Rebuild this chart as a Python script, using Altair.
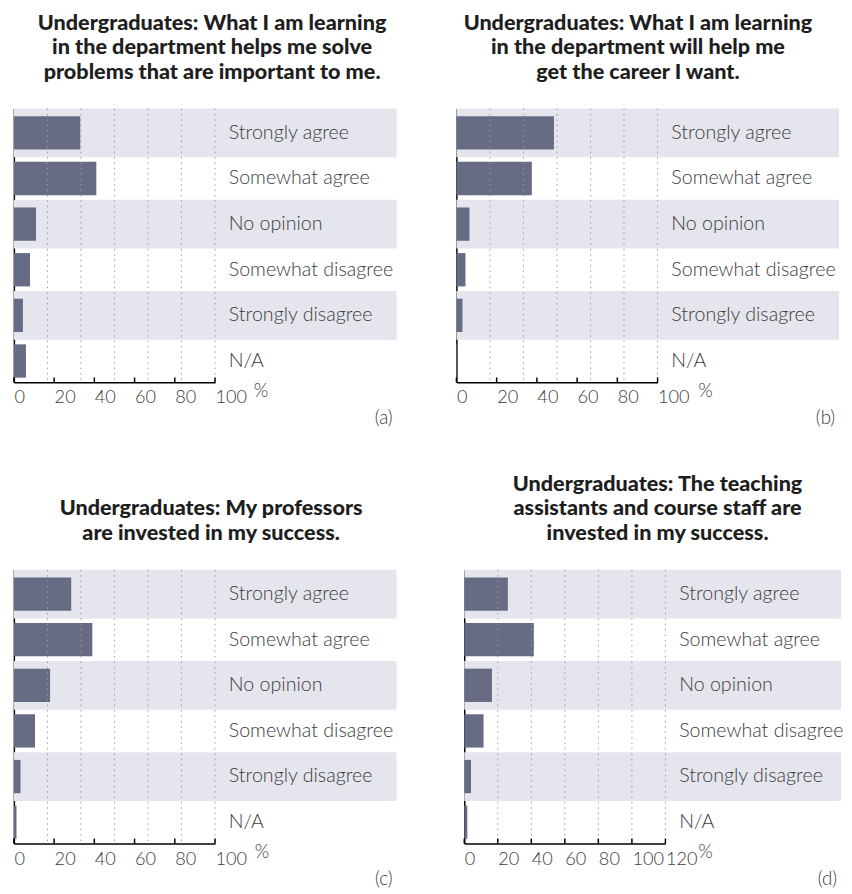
import altair as alt
import pandas as pd

categories = ["Strongly agree", "Somewhat agree", "No opinion",
              "Somewhat disagree", "Strongly disagree", "N/A"]
shaded = [True, False, True, False, True, False]

titles = [
    ["Undergraduates: What I am learning", "in the department helps me solve",
     "problems that are important to me."],
    ["Undergraduates: What I am learning", "in the department will help me",
     "get the career I want."],
    ["", "Undergraduates: My professors", "are invested in my success."],
    ["Undergraduates: The teaching", "assistants and course staff are",
     "invested in my success."],
]

values_a = [33, 41, 11, 8, 4.5, 6]
values_b = [48.5, 37.5, 6.5, 4.5, 3, 0.3]
values_c = [28.5, 39, 18, 10.5, 3.3, 1.3]
values_d = [26, 41.5, 16.5, 11.5, 4, 1.8]

ticks_100 = [0, 20, 40, 60, 80, 100]
ticks_120 = [0, 20, 40, 60, 80, 100, 120]
grid_100 = [16.7, 33.3, 50, 66.7, 83.3, 100]
grid_120 = [20, 40, 60, 80, 100, 120]
letters = ["(a)", "(b)", "(c)", "(d)"]

BAR = "#676c85"
BAND = "#e4e5ed"
TXT = "#3c3c3c"
H = 279
PW = 205


def panel(vals, title_lines, xmax, ticks, grid, letter, W, title_dx, pct_x):
    df = pd.DataFrame({"cat": categories, "val": vals, "shade": shaded})
    xs = alt.Scale(domain=[0, xmax], range=[0, PW], nice=False, zero=True)
    ys = alt.Scale(domain=categories, paddingInner=0, paddingOuter=0)

    bands = alt.Chart(df).transform_filter("datum.shade").mark_bar(
        color=BAND, height={"band": 1.07}, yOffset=1.5).encode(
        y=alt.Y("cat:N", scale=ys, sort=categories,
                axis=alt.Axis(labels=False, ticks=False, title=None, grid=False,
                              domainColor="black", domainWidth=1.5)),
        x=alt.value(0), x2=alt.value(W))

    bars = alt.Chart(df).mark_bar(color=BAR, height={"band": 0.73}, yOffset=1.5).encode(
        y=alt.Y("cat:N", scale=ys, sort=categories),
        x=alt.X("val:Q", scale=xs,
                axis=alt.Axis(values=ticks, labelAlign="left", labelFlush=False,
                              labelOverlap=False, ticks=False, grid=False,
                              domainColor="black", domainWidth=1.5,
                              labelFont="Lato", labelFontWeight=300, labelFontSize=18.5,
                              labelColor=TXT, labelPadding=6, labelBaseline="top",
                              title="%", titleX=pct_x, titleY=8, titleAlign="left",
                              titleBaseline="middle", titleFont="Lato",
                              titleFontWeight=300, titleFontSize=19, titleColor=TXT)))

    gdf = pd.DataFrame({"g": grid})
    grid_layer = alt.Chart(gdf).mark_rule(color="#9a9a9a", strokeDash=[1.5, 4],
                                          strokeWidth=1).encode(
        x=alt.X("g:Q", scale=xs), y=alt.value(0), y2=alt.value(H))

    tdf = pd.DataFrame({"t": ticks})
    tick_layer = alt.Chart(tdf).mark_rule(color="black", strokeWidth=1.5).encode(
        x=alt.X("t:Q", scale=xs), y=alt.value(H - 5), y2=alt.value(H))

    labels = alt.Chart(df).mark_text(align="left", baseline="middle", font="Lato",
                                     fontWeight=300, fontSize=20, color=TXT, dy=1.5).encode(
        y=alt.Y("cat:N", scale=ys, sort=categories),
        x=alt.value(PW + 14), text="cat:N")

    ldf = pd.DataFrame({"t": [letter]})
    letter_layer = alt.Chart(ldf).mark_text(align="right", baseline="middle", font="Lato",
                                            fontWeight=300, fontSize=19, color=TXT).encode(
        x=alt.value(W - 4), y=alt.value(H + 36), text="t:N")

    return alt.layer(bands, bars, grid_layer, tick_layer, labels, letter_layer).properties(
        width=W, height=H,
        title=alt.TitleParams(text=title_lines, font="Lato", fontWeight=900, fontSize=22,
                              lineHeight=25, color="#1e1e1e", anchor="middle",
                              frame="group", dx=title_dx, offset=25))


pa = panel(values_a, titles[0], 100, ticks_100, grid_100, letters[0], 390, 7, 244)
pb = panel(values_b, titles[1], 100, ticks_100, grid_100, letters[1], 390, -10, 246)
pc = panel(values_c, titles[2], 100, ticks_100, grid_100, letters[2], 390, 6, 245)
pd_ = panel(values_d, titles[3], 120, ticks_120, grid_120, letters[3], 384, 5, 238)

row1 = alt.hconcat(pa, pb, spacing=60)
row2 = alt.hconcat(pc, pd_, spacing=68)
chart = alt.vconcat(row1, row2, spacing=46).configure_view(
    stroke=None).properties(padding={"left": 5, "top": -5, "right": 0, "bottom": 0})

chart.save("out.html", embed_options={"renderer": "svg", "actions": False})
